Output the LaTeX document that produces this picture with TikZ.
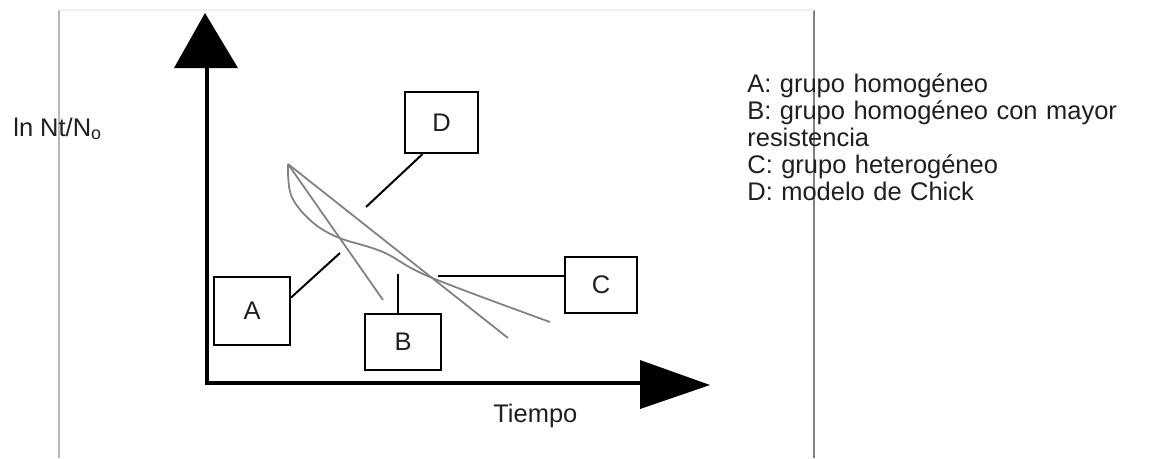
\documentclass[tikz,border=0pt]{standalone}
\usepackage{fontspec}
\setmainfont{Liberation Sans}
\usetikzlibrary{calc}
\definecolor{framegray}{gray}{0.72}
\definecolor{curvegray}{gray}{0.5}
\definecolor{textgray}{gray}{0.12}
\tikzset{
  labelbox/.style={draw, line width=0.04cm, inner sep=0pt, text=textgray},
  linkline/.style={line width=0.04cm},
  curveline/.style={curvegray, line width=0.035cm, line join=round},
}
\begin{document}
\begin{tikzpicture}[x=0.02cm, y=-0.02cm]
                        \useasboundingbox (0,0) rectangle (1156,458);
                        {\fontsize{14.5}{15.4}\selectfont

                        % Drawing frame of the page
                        \draw [framegray, line width=0.025cm] (59,10) -- (59,458);%
                        \draw [framegray!70!black, line width=0.025cm] (814,10) -- (814,458);%
                        \draw [gray!12, line width=0.025cm] (59,10) -- (814,10);%

                        % Drawing axes
                        \coordinate (origin) at (207,383);
                        \draw [line width=0.07cm] (207,66) -- (origin) -- (642,383);%
                        \fill (174,68) -- (238,68) -- (205,13) -- cycle;%
                        \fill (640,360) -- (640,409) -- (710,385) -- cycle;%
                        \node [anchor=base west, inner sep=0pt, text=textgray] (ylabel) at (13,136) {ln Nt/N\textsubscript{o}};%
                        \node [anchor=base west, inner sep=0pt, text=textgray] (xlabel) at (493,422) {Tiempo};%

                        % Drawing survival curves
                        \coordinate (start) at (288,164);
                        \draw [curveline] (start) -- (383,300);%
                        \draw [curveline] (start) -- (508,338);%
                        \draw [curveline] plot [smooth, tension=0.6] coordinates {(start) (291,195) (310,220) (337,237) (383,252) (430,277) (550,322)};%

                        % Marking curves by boxes
                        \node [labelbox, minimum width=1.52cm, minimum height=1.36cm] (A) at (252,311) {A};%
                        \node [labelbox, minimum width=1.52cm, minimum height=1.12cm] (B) at (403,342) {B};%
                        \node [labelbox, minimum width=1.44cm, minimum height=1.12cm] (C) at (601,285) {C};%
                        \node [labelbox, minimum width=1.46cm, minimum height=1.22cm] (D) at (441.5,122.5) {D};%
                        \coordinate (a) at (340,253);
                        \coordinate (b) at (398,274);
                        \coordinate (c) at (438,276);
                        \coordinate (d) at (366,207);
                        \draw [linkline] (A.19) -- (a);%
                        \draw [linkline] (b) -- (b |- B.north);%
                        \draw [linkline] (c) -- (c -| C.west);%
                        \draw [linkline] (D.239) -- (d);%

                        % Drawing legend
                        \node [anchor=north west, inner sep=0pt, text width=8.06cm, align=left, text=textgray] (legend) at (747,73) {%
                          A: grupo homogéneo\\
                          \makebox[8.06cm][s]{B: grupo homogéneo con mayor}\\
                          resistencia\\
                          C: grupo heterogéneo\\
                          D: modelo de Chick};%
                        }
                    \end{tikzpicture}
\end{document}
